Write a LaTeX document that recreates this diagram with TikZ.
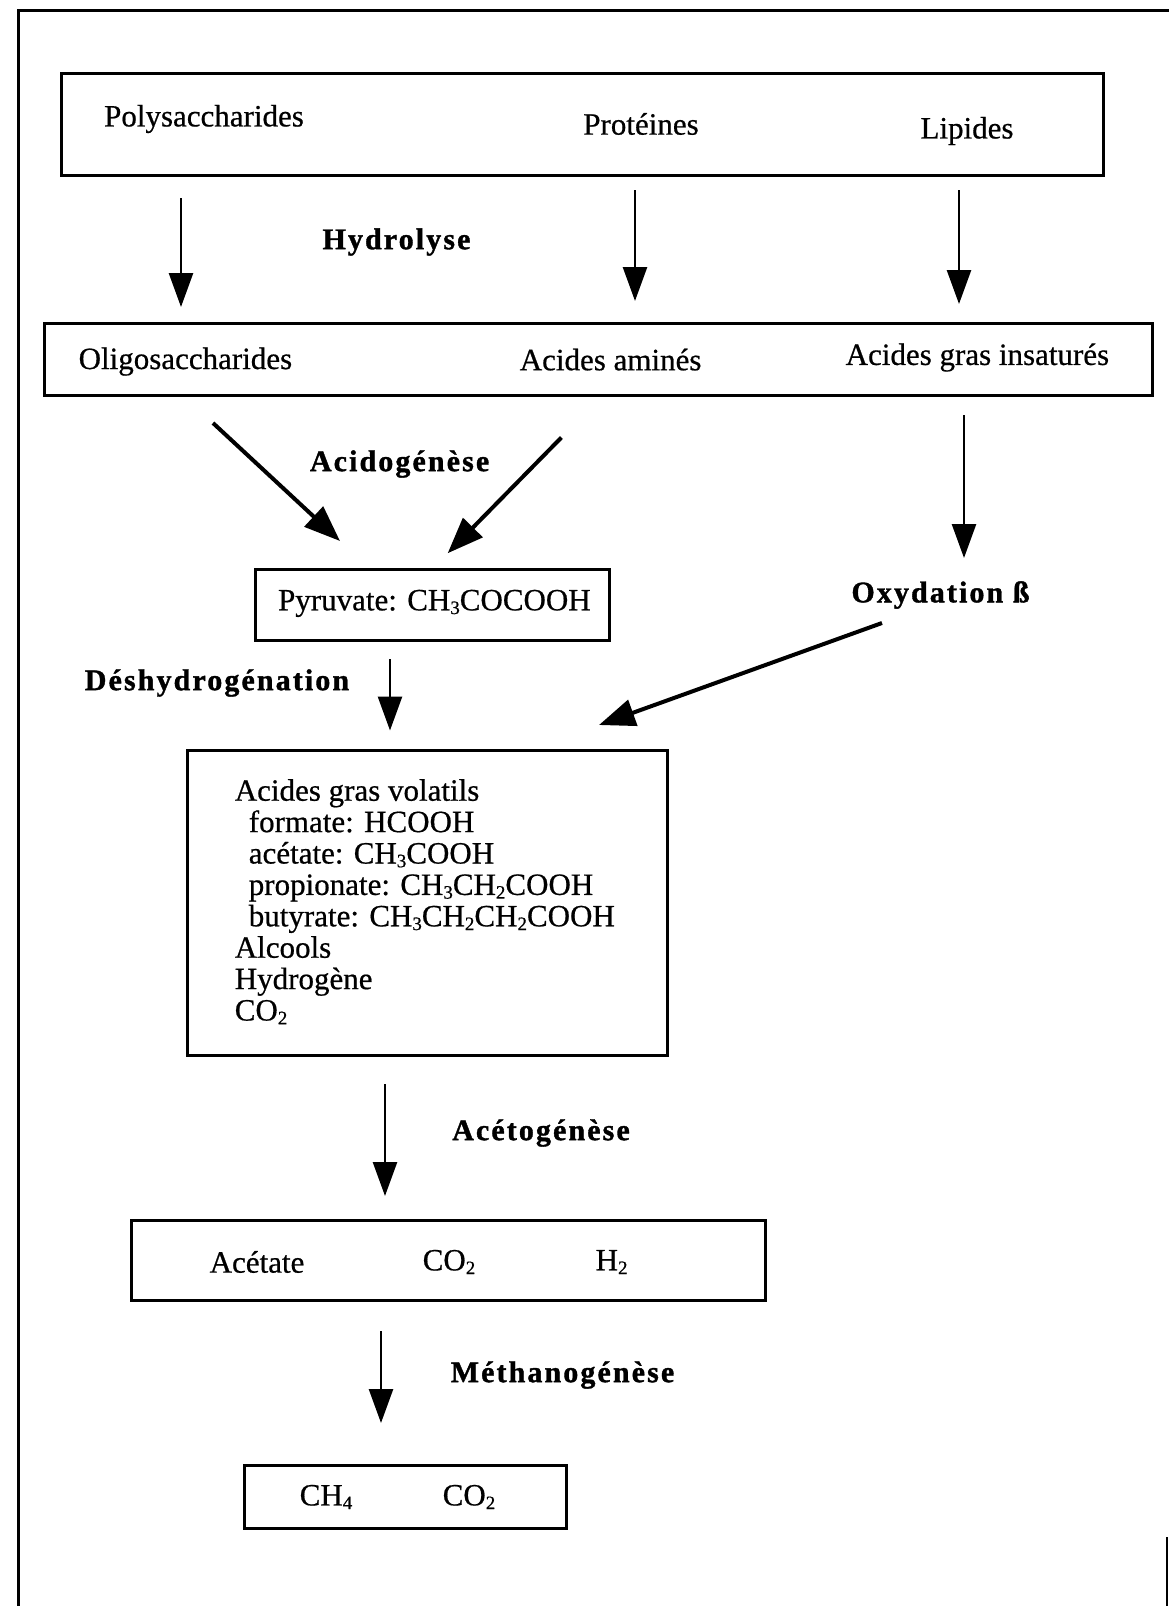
\documentclass[tikz,border=0pt]{standalone}
\usepackage{fontspec}
\setmainfont[FakeBold=0.6]{Liberation Serif}
\newfontfamily\lblfont[LetterSpace=7, BoldFeatures={FakeBold=1.2}]{Liberation Serif}
\usetikzlibrary{arrows.meta}
\newcommand\chsub[1]{\raisebox{-0.12em}{\fontsize{19}{19}\selectfont #1}}
\begin{document}
\begin{tikzpicture}[x=1pt,y=-1pt,
  box/.style={draw, line width=3pt, inner sep=0pt},
  txt/.style={font=\fontsize{31}{32}\selectfont, inner sep=0pt},
  lbl/.style={font=\lblfont\bfseries\fontsize{30}{32}\selectfont, inner sep=0pt},
  arr/.style={line width=2.6pt, -{Triangle[length=34pt,width=24pt]}},
  darr/.style={line width=4pt, -{Triangle[length=36pt,width=27pt]}},
  frame/.style={line width=2.8pt}]
\useasboundingbox (0,0) rectangle (1169,1606);
\fill[white] (0,0) rectangle (1169,1606);
% outer frame
\draw[frame] (18.4,1606) -- (18.4,10.2) -- (1169,10.2);
\draw[frame] (1167,1537) -- (1167,1606);

% boxes
\node[box, minimum width=1041.9pt, minimum height=101.4pt] (top) at (582.45,124.5) {};
\node[box, minimum width=1108.6pt, minimum height=71.8pt] (mid) at (598.3,359.6) {};
\node[box, minimum width=354.6pt, minimum height=70.7pt] (pyr) at (432.3,605) {};
\node[box, minimum width=479.5pt, minimum height=305pt] (agv) at (427.25,902.5) {};
\node[box, minimum width=634pt, minimum height=80pt] (ace) at (448,1260) {};
\node[box, minimum width=322.5pt, minimum height=63.6pt] (fin) at (405.25,1496.8) {};

% texts
\node[txt] (poly) at (204,119) {Polysaccharides};
\node[txt] (prot) at (641,124) {Protéines};
\node[txt] (lip) at (967,131) {Lipides};
\node[txt] (oligo) at (185.4,361.6) {Oligosaccharides};
\node[txt] (amin) at (610.6,359.6) {Acides aminés};
\node[txt] (insat) at (977.4,357.5) {Acides gras insaturés};
\node[txt] (pyrt) at (434.4,603.4) {Pyruvate: CH\chsub{3}COCOOH};
\node[txt, anchor=north west, align=left, font=\fontsize{31}{31.4}\selectfont] (agvt) at (234.6,779)
 {Acides gras volatils\\
  \hspace*{14pt}formate: HCOOH\\
  \hspace*{14pt}acétate: CH\chsub{3}COOH\\
  \hspace*{14pt}propionate: CH\chsub{3}CH\chsub{2}COOH\\
  \hspace*{14pt}butyrate: CH\chsub{3}CH\chsub{2}CH\chsub{2}COOH\\
  Alcools\\
  Hydrogène\\
  CO\chsub{2}};
\node[txt] (acet) at (257,1262) {Acétate};
\node[txt] (co2a) at (449,1262) {CO\chsub{2}};
\node[txt] (h2) at (611.6,1262) {H\chsub{2}};
\node[txt] (ch4) at (326,1497) {CH\chsub{4}};
\node[txt] (co2b) at (469,1497) {CO\chsub{2}};

% labels
\node[lbl] (lhyd) at (396.5,242) {Hydrolyse};
\node[lbl] (lacid) at (399.6,464) {Acidogénèse};
\node[lbl] (loxy) at (940.5,595) {Oxydation ß};
\node[lbl] (ldes) at (217,683) {Déshydrogénation};
\node[lbl] (lacet) at (541,1133) {Acétogénèse};
\node[lbl] (lmeth) at (562.5,1375) {Méthanogénèse};

% arrow endpoints
\coordinate (h1s) at (181,198);   \coordinate (h1e) at (181,307);
\coordinate (h2s) at (635,190);   \coordinate (h2e) at (635,301);
\coordinate (h3s) at (959,190);   \coordinate (h3e) at (959,304);
\coordinate (a1s) at (213,423);   \coordinate (a1e) at (340,541);
\coordinate (a2s) at (561.4,437.5); \coordinate (a2e) at (447.7,553.2);
\coordinate (o1s) at (964,415);   \coordinate (o1e) at (964,558);
\coordinate (o2s) at (882,623);   \coordinate (o2e) at (599,725);
\coordinate (d1s) at (390,659);   \coordinate (d1e) at (390,730.5);
\coordinate (c1s) at (385,1084);  \coordinate (c1e) at (385,1196);
\coordinate (m1s) at (381,1331);  \coordinate (m1e) at (381,1423);

\draw[arr] (h1s) -- (h1e);
\draw[arr] (h2s) -- (h2e);
\draw[arr] (h3s) -- (h3e);
\draw[darr] (a1s) -- (a1e);
\draw[darr] (a2s) -- (a2e);
\draw[arr] (o1s) -- (o1e);
\draw[darr] (o2s) -- (o2e);
\draw[arr] (d1s) -- (d1e);
\draw[arr] (c1s) -- (c1e);
\draw[arr] (m1s) -- (m1e);
\end{tikzpicture}
\end{document}
